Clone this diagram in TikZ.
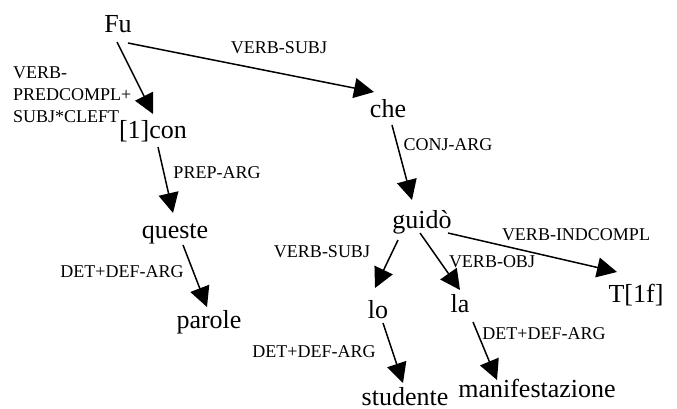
\documentclass[tikz,border=0pt]{standalone}
\usepackage{fontspec}
\setmainfont{Liberation Serif}
\usetikzlibrary{arrows.meta}
\tikzset{
  word/.style={inner sep=0pt, anchor=base, font=\fontsize{26}{30}\selectfont},
  lab/.style={inner sep=0pt, anchor=base, font=\fontsize{18}{22}\selectfont},
  dep/.style={line width=1.5pt, -{Triangle[length=20pt,width=20pt]}},
}
\begin{document}
\begin{tikzpicture}[x=1pt,y=-1pt]
\useasboundingbox (0,0) rectangle (677,408);
% words
\node[word] (fu) at (118,32) {Fu};
\node[word] (con) at (153,138) {[1]con};
\node[word] (che) at (388,117) {che};
\node[word] (queste) at (175,238) {queste};
\node[word] (parole) at (209,328) {parole};
\node[word] (guido) at (422,228) {guidò};
\node[word] (lo) at (378,318) {lo};
\node[word] (la) at (460,312) {la};
\node[word] (t1f) at (636,302) {T[1f]};
\node[word] (studente) at (405,405) {studente};
\node[word] (manif) at (537,397) {manifestazione};
% dependencies
\draw[dep] ([shift={(-1,10)}]fu.base) -- ([shift={(0,-24)}]con.base);
\draw[dep] ([shift={(10,11)}]fu.base) -- ([shift={(-14,-25)}]che.base);
\draw[dep] ([shift={(5,9)}]con.base) -- ([shift={(-2,-25)}]queste.base);
\draw[dep] ([shift={(4,8)}]che.base) -- ([shift={(-10,-28)}]guido.base);
\draw[dep] ([shift={(8,7)}]queste.base) -- ([shift={(-2,-21)}]parole.base);
\draw[dep] ([shift={(-24,12)}]guido.base) -- ([shift={(-3,-30)}]lo.base);
\draw[dep] ([shift={(-2,5)}]guido.base) -- ([shift={(0,-22)}]la.base);
\draw[dep] ([shift={(26,5)}]guido.base) -- ([shift={(-19,-30)}]t1f.base);
\draw[dep] ([shift={(5,5)}]lo.base) -- ([shift={(-2,-22)}]studente.base);
\draw[dep] ([shift={(13,10)}]la.base) -- ([shift={(-40,-17)}]manif.base);
% labels
\node[lab] (l1) at (279,53) {VERB-SUBJ};
\node[lab, anchor=base west] (l2) at (13,78) {\begin{tabular}[t]{@{}l@{}}VERB-\\PREDCOMPL+\\SUBJ*CLEFT\end{tabular}};
\node[lab] (l3) at (217,178) {PREP-ARG};
\node[lab] (l4) at (448,150) {CONJ-ARG};
\node[lab] (l5) at (322,257) {VERB-SUBJ};
\node[lab] (l6) at (576,240) {VERB-INDCOMPL};
\node[lab] (l7) at (492,267) {VERB-OBJ};
\node[lab] (l8) at (122,277) {DET+DEF-ARG};
\node[lab] (l9) at (314,357) {DET+DEF-ARG};
\node[lab] (l10) at (544,339) {DET+DEF-ARG};
\end{tikzpicture}
\end{document}
